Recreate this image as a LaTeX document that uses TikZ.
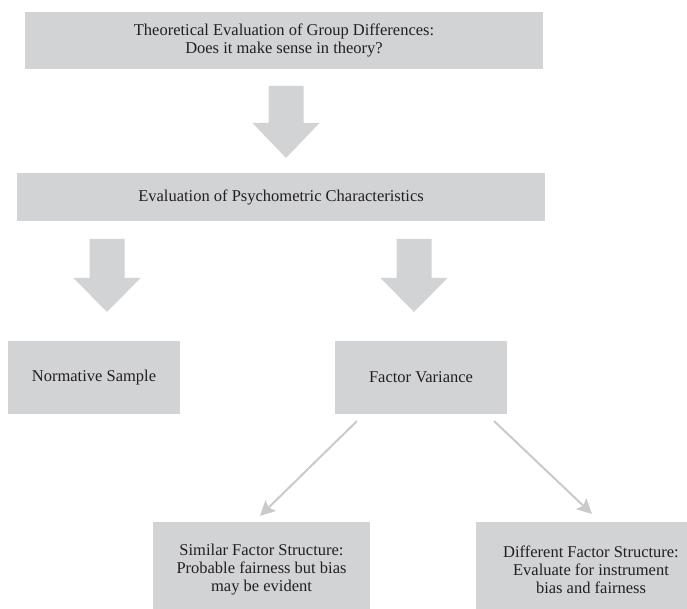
\documentclass[tikz,border=0pt]{standalone}
\usepackage{fontspec}
\setmainfont{Liberation Serif}
\usetikzlibrary{arrows.meta}
\definecolor{boxgray}{HTML}{D1D3D4}
\definecolor{linegray}{HTML}{C9CACC}
\definecolor{txt}{HTML}{231F20}
\tikzset{
  box/.style={fill=boxgray, draw=none, inner sep=0pt, align=center, text=txt,
    font=\fontsize{16.5}{18}\selectfont},
  blockarrow/.style={fill=boxgray, draw=none},
  thinarrow/.style={draw=linegray, line width=2pt,
    -{Stealth[length=15pt,width=15pt,inset=3pt]}},
}
\begin{document}
\begin{tikzpicture}[x=1pt,y=-1pt]
\useasboundingbox (0,0) rectangle (687,609);
% boxes
\node[box, minimum width=518pt, minimum height=57pt] (top) at (284,40.5)
  {Theoretical Evaluation of Group Differences:\\Does it make sense in theory?};
\node[box, minimum width=528pt, minimum height=48pt] (psy) at (281,197)
  {Evaluation of Psychometric Characteristics};
\node[box, minimum width=172pt, minimum height=73pt] (norm) at (94,377.5)
  {Normative Sample};
\node[box, minimum width=172pt, minimum height=73pt] (fv) at (421,377.5)
  {Factor Variance};
\node[box, minimum width=217pt, minimum height=96pt] (sim) at (261.5,570)
  {Similar Factor Structure:\\Probable fairness but bias\\may be evident};
\node[box, minimum width=230pt, minimum height=96pt] (diff) at (591,570)
  {Different Factor Structure:\\Evaluate for instrument\\bias and fairness};
% block arrows
\coordinate (a1) at (286,86);
\coordinate (a2) at (107,239);
\coordinate (a3) at (414,239);
\foreach \c/\len/\hb in {a1/37/72, a2/39/73, a3/39/73}{
  \fill[blockarrow] ([shift={(-17.5,0)}]\c) -- ([shift={(17.5,0)}]\c)
    -- ([shift={(17.5,\len)}]\c) -- ([shift={(33.5,\len)}]\c)
    -- ([shift={(0,\hb)}]\c) -- ([shift={(-33.5,\len)}]\c)
    -- ([shift={(-17.5,\len)}]\c) -- cycle;
}
% thin arrows
\coordinate (s1) at (357,421);
\coordinate (e1) at (260,516);
\coordinate (s2) at (494,421);
\coordinate (e2) at (592,514);
\draw[thinarrow] (s1) -- (e1);
\draw[thinarrow] (s2) -- (e2);
\end{tikzpicture}
\end{document}
